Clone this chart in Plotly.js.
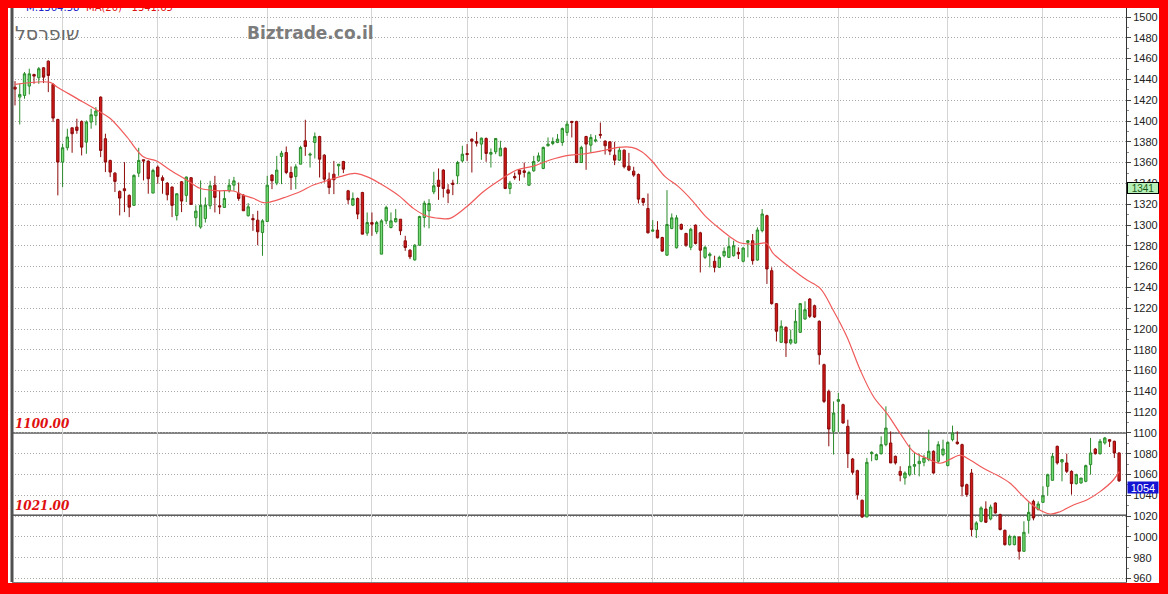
<!DOCTYPE html>
<html>
<head>
<meta charset="utf-8">
<script src="https://cdn.plot.ly/plotly-3.0.1.min.js"></script>
<style>
  html, body { margin: 0; padding: 0; background: #fff; }
  #wrap { position: relative; width: 1168px; height: 594px; overflow: hidden; }
  #chart { position: absolute; left: 0; top: 0; width: 1168px; height: 594px; }
  #frame { position: absolute; left: 0; top: 0; width: 1168px; height: 594px; box-sizing: border-box;
           border-style: solid; border-color: #ff0000; border-width: 8px 9px 11px 8px; pointer-events: none; z-index: 10; }
</style>
</head>
<body>
<div id="wrap"><div id="chart"></div><div id="frame"></div></div>
<script>
// ---- data (daily candles, oldest first) ----
const open = [1432.6,1423.0,1424.6,1433.6,1444.8,1441.6,1451.2,1457.6,1435.2,1401.5,1360.5,1374.3,1393.5,1394.2,1399.6,1379.7,1399.0,1405.1,1423.0,1383.0,
1362.1,1349.9,1332.3,1334.9,1328.5,1318.9,1349.9,1362.8,1361.5,1330.7,1355.7,1345.5,1340.3,1336.5,1309.2,1341.6,1328.5,1345.5,1307.0,1298.0,
1306.3,1318.5,1338.3,1318.5,1316.9,1332.9,1338.3,1330.6,1328.7,1308.9,1306.3,1304.7,1292.8,1303.4,1348.0,1340.3,1365.9,1369.7,1350.5,1346.7,
1358.5,1381.0,1367.2,1379.4,1385.1,1367.2,1344.1,1348.9,1356.9,1361.1,1332.9,1319.1,1325.5,1331.3,1292.2,1302.4,1293.5,1272.0,1304.0,1297.6,
1303.1,1305.6,1284.8,1275.8,1266.5,1280.6,1307.2,1313.7,1331.9,1343.1,1352.8,1333.8,1340.3,1347.3,1361.7,1368.8,1382.6,1380.3,1377.8,1383.2,
1368.1,1370.4,1366.5,1373.9,1335.1,1346.7,1352.8,1352.1,1338.3,1352.1,1361.7,1354.4,1376.2,1378.4,1379.4,1379.4,1389.0,1399.6,1399.6,1360.1,
1385.1,1376.8,1380.8,1387.1,1380.6,1380.0,1367.2,1362.4,1372.0,1356.6,1351.8,1348.6,1325.5,1315.9,1294.1,1295.1,1288.0,1271.0,1296.7,1278.1,
1300.5,1291.9,1278.6,1299.9,1292.5,1268.9,1270.5,1265.1,1259.3,1270.5,1268.9,1270.5,1273.7,1265.1,1283.3,1284.9,1266.3,1294.6,1309.0,1256.1,
1224.4,1187.2,1201.6,1186.5,1186.5,1196.8,1209.6,1228.8,1222.4,1207.4,1165.7,1140.1,1101.6,1130.4,1127.2,1106.4,1075.0,1063.8,1035.3,1019.2,
1080.1,1074.4,1080.1,1088.8,1090.4,1077.6,1063.1,1056.7,1059.9,1068.0,1070.5,1071.8,1074.4,1082.4,1072.8,1079.2,1068.6,1093.6,1091.3,1088.8,
1050.3,1061.5,1007.1,1015.1,1026.9,1017.3,1032.7,1021.5,1006.4,992.6,992.6,1000.0,986.2,1016.0,1034.3,1026.3,1033.3,1048.7,1054.5,1087.2,
1072.1,1071.2,1063.1,1051.3,1051.9,1053.5,1069.6,1084.6,1080.1,1090.4,1093.6,1092.0,1080.8];
const high = [1438.4,1435.8,1447.1,1450.3,1445.4,1451.9,1451.9,1458.3,1436.5,1402.2,1378.1,1392.6,1393.5,1402.2,1400.6,1400.6,1411.8,1413.4,1423.7,1387.8,
1362.8,1350.9,1333.3,1360.5,1329.4,1348.7,1374.3,1362.8,1362.1,1354.1,1357.3,1347.7,1341.3,1337.1,1330.1,1342.2,1346.7,1346.1,1318.9,1342.9,
1326.5,1342.5,1347.3,1332.9,1332.9,1344.1,1346.3,1340.9,1329.7,1321.0,1310.5,1313.7,1305.6,1347.3,1348.9,1366.5,1371.3,1375.5,1356.3,1358.5,
1376.2,1401.2,1369.7,1389.0,1385.8,1368.1,1350.5,1361.7,1358.5,1361.7,1333.8,1331.3,1326.5,1331.9,1312.1,1312.1,1304.0,1305.6,1318.5,1312.1,
1315.3,1305.6,1289.6,1276.8,1281.6,1308.9,1323.3,1324.9,1351.2,1354.4,1353.7,1339.3,1343.5,1361.7,1376.2,1377.8,1383.2,1389.6,1384.2,1384.2,
1373.6,1383.2,1381.0,1374.6,1342.5,1350.5,1353.7,1360.1,1352.1,1366.5,1369.7,1375.5,1384.2,1384.2,1387.4,1393.8,1400.2,1400.2,1400.2,1376.2,
1385.8,1387.4,1386.4,1398.6,1381.6,1380.6,1380.0,1375.2,1372.6,1369.4,1356.0,1349.6,1326.2,1330.3,1304.7,1303.7,1288.7,1333.5,1311.1,1309.5,
1301.5,1292.5,1297.3,1300.5,1293.5,1280.1,1273.7,1270.5,1270.5,1278.5,1288.1,1284.9,1278.5,1278.5,1285.6,1291.3,1297.8,1315.4,1309.9,1259.3,
1225.0,1208.3,1202.6,1199.4,1218.6,1225.0,1226.6,1229.8,1223.4,1208.3,1166.7,1141.7,1130.4,1138.5,1128.2,1112.8,1076.0,1064.7,1035.9,1076.0,
1082.4,1080.1,1096.8,1125.6,1101.6,1078.2,1068.0,1063.1,1088.8,1080.8,1080.1,1079.2,1103.2,1083.3,1092.0,1093.6,1092.0,1107.1,1101.6,1089.7,
1051.3,1065.4,1015.1,1029.5,1034.3,1031.1,1033.3,1022.4,1007.1,1002.2,1001.3,1000.6,1015.1,1033.3,1035.9,1034.3,1048.7,1060.9,1080.8,1087.8,
1075.0,1080.1,1064.1,1060.9,1056.7,1069.6,1095.2,1085.6,1094.2,1096.2,1094.2,1092.6,1081.4];
const low = [1415.0,1396.7,1421.4,1425.6,1435.8,1435.8,1436.5,1427.8,1399.0,1328.5,1336.5,1371.7,1369.5,1387.8,1366.9,1368.5,1392.6,1395.8,1365.3,1350.9,
1346.1,1331.7,1309.2,1312.4,1307.6,1318.9,1346.1,1342.9,1330.1,1330.7,1339.7,1330.1,1323.7,1307.6,1304.4,1312.4,1322.1,1319.8,1298.7,1296.4,
1302.4,1315.3,1312.1,1310.5,1316.9,1331.3,1332.9,1323.3,1313.7,1308.2,1294.4,1280.6,1270.4,1303.1,1334.5,1338.3,1339.3,1348.9,1333.8,1334.5,
1358.5,1366.5,1355.3,1364.0,1345.7,1340.9,1329.7,1329.7,1347.3,1349.9,1320.1,1318.5,1305.6,1291.2,1289.6,1289.6,1291.2,1272.0,1300.8,1296.7,
1302.4,1290.3,1275.2,1267.2,1265.6,1280.0,1297.6,1296.7,1329.7,1324.2,1326.5,1321.0,1328.7,1339.3,1360.1,1361.7,1350.5,1375.5,1362.7,1360.8,
1355.3,1368.1,1366.5,1334.5,1329.7,1343.5,1342.5,1345.7,1337.7,1351.2,1360.8,1353.7,1375.5,1376.8,1378.7,1376.2,1385.8,1384.2,1359.5,1360.1,
1353.1,1369.7,1379.4,1383.2,1367.8,1367.2,1357.6,1361.7,1354.4,1351.8,1346.3,1320.7,1318.5,1291.9,1293.5,1287.1,1274.2,1270.4,1296.0,1277.4,
1295.1,1279.0,1275.8,1281.3,1254.4,1267.3,1259.3,1254.5,1258.7,1268.9,1268.3,1269.6,1267.3,1264.1,1268.9,1261.9,1265.7,1292.9,1243.3,1223.4,
1188.1,1186.5,1173.1,1184.9,1185.9,1196.2,1209.0,1210.6,1210.6,1165.7,1128.8,1087.2,1079.2,1100.6,1109.0,1066.3,1059.9,1035.9,1018.3,1019.2,
1072.8,1073.7,1079.2,1087.2,1071.2,1069.6,1053.5,1050.3,1058.3,1059.9,1058.3,1068.0,1072.8,1060.9,1071.2,1077.6,1068.0,1092.0,1088.8,1039.1,
1038.5,1000.6,999.0,1014.1,1013.5,1016.0,1022.4,1006.4,991.7,991.7,992.0,978.2,986.2,1003.2,1016.0,1025.6,1032.7,1039.7,1054.2,1069.6,
1053.5,1061.5,1040.7,1050.3,1051.3,1052.6,1059.9,1079.2,1079.2,1088.8,1086.5,1076.0,1053.0];
const close = [1430.7,1425.6,1445.4,1445.4,1443.2,1450.3,1442.2,1443.8,1402.8,1360.5,1374.3,1384.6,1387.8,1391.0,1374.9,1399.0,1406.0,1409.6,1371.7,1360.5,
1350.9,1341.9,1325.9,1333.0,1317.2,1347.7,1362.1,1361.5,1344.5,1352.5,1346.7,1342.9,1329.1,1318.9,1330.1,1323.0,1346.1,1319.8,1313.4,1318.9,
1319.1,1337.7,1326.5,1317.5,1325.5,1338.3,1342.5,1325.5,1313.7,1317.5,1305.0,1293.5,1304.0,1338.3,1342.5,1352.8,1369.1,1350.5,1345.7,1356.0,
1374.6,1375.5,1368.1,1385.1,1363.3,1344.1,1336.1,1343.5,1358.5,1353.7,1324.2,1325.5,1310.5,1291.2,1302.4,1300.8,1302.4,1304.0,1316.9,1304.0,
1306.3,1294.4,1278.4,1269.4,1280.6,1308.2,1321.0,1320.7,1337.7,1337.1,1335.1,1330.6,1339.0,1360.1,1368.1,1367.8,1380.6,1378.7,1383.5,1368.8,
1369.7,1383.2,1373.9,1335.1,1340.3,1345.4,1348.9,1350.5,1350.5,1361.1,1366.5,1374.6,1377.8,1380.3,1382.6,1392.8,1397.0,1398.6,1360.1,1374.6,
1377.8,1384.2,1381.8,1386.4,1376.2,1371.0,1362.4,1372.0,1356.0,1352.8,1348.0,1324.9,1321.7,1292.5,1295.1,1287.7,1274.9,1300.5,1306.9,1306.9,
1296.0,1280.6,1295.9,1282.2,1275.8,1278.5,1272.1,1259.3,1268.9,1274.7,1279.2,1280.1,1272.1,1277.9,1284.9,1265.7,1295.2,1310.6,1257.7,1224.4,
1197.8,1202.6,1186.5,1189.7,1207.4,1224.4,1218.6,1212.2,1211.5,1175.3,1130.4,1103.8,1119.2,1132.1,1109.6,1080.1,1062.2,1040.7,1019.2,1071.8,
1081.4,1079.2,1088.8,1104.8,1071.2,1071.2,1059.3,1061.5,1068.0,1069.6,1072.8,1076.0,1082.4,1061.5,1088.8,1084.6,1091.0,1100.0,1089.7,1048.7,
1040.7,1007.1,1013.5,1027.9,1014.1,1028.8,1023.1,1007.1,992.6,1000.6,1000.6,986.2,1004.5,1023.7,1018.3,1031.7,1039.7,1059.9,1077.6,1071.2,
1074.4,1063.1,1051.3,1059.9,1056.7,1068.6,1080.8,1080.1,1092.0,1095.2,1092.0,1080.8,1054.0];

// 20-day moving average (candle index, value)
const maIdx = [0,7.35,8.76,12.96,17.17,19.96,23.47,26.96,29.78,32.57,36.08,38.87,42.38,45.87,47.97,50.07,52.17,53.58,57.09,59.89,
62.68,65.5,68.29,71.44,73.9,76.7,79.49,80.9,83.7,86.5,89.3,91.4,94.9,98.4,101.9,105.4,108.9,112.4,115.9,119.4,
123.3,126.8,129.6,131.7,133.8,136.6,139.4,142.2,145.0,147.4,150.2,152.3,155.8,157.9,159.3,162.2,164.9,166.4,169.2,171.9,
174.8,177.6,180.4,183.2,186.0,188.8,191.6,194.4,196.5,198.6,200.7,203.5,206.3,209.1,211.9,214.7,217.5,219.6,222.4,225.2,
228.0,230.8,232.0];
const maVal = [1435.3,1437.2,1433.0,1421.8,1410.6,1402.6,1384.9,1365.7,1361.5,1352.9,1343.3,1335.3,1333.0,1332.7,1328.8,1325.7,1321.5,1322.1,1327.2,1332.0,
1338.5,1342.6,1346.5,1349.7,1346.5,1340.0,1332.0,1327.3,1316.0,1308.7,1306.4,1306.4,1317.6,1332.0,1343.3,1352.9,1356.7,1362.5,1366.7,1368.3,
1371.4,1374.7,1374.7,1370.5,1361.8,1346.5,1336.9,1324.0,1308.8,1299.0,1288.8,1283.0,1281.7,1282.4,1272.8,1261.5,1251.9,1247.1,1239.1,1218.3,
1192.6,1160.6,1134.9,1118.9,1099.7,1082.0,1075.7,1070.9,1074.7,1078.8,1074.0,1066.0,1059.6,1051.6,1038.8,1027.6,1022.1,1024.3,1030.8,1035.6,
1043.6,1054.8,1062.8];

// month boundaries (candle index of vertical grid lines)
const monthStarts = [10,30,53,75,95,116,134,153,173,196,216];
// horizontal reference lines
const levels = [1100, 1021];
const levelLabels = ['1100.00', '1021.00'];
// header texts
const symbolName = 'שופרסל';
const siteName = 'Biztrade.co.il';
const headerM = 'M:1364.58';
const headerMA = 'MA(20)';
const headerMAval = '1341.65';
// right axis value boxes
const maBox = 1341;
const lastBox = 1054;

const idx = close.map((_, i) => i);

const candles = {
  type: 'candlestick',
  x: idx, open: open, high: high, low: low, close: close,
  increasing: { line: { color: '#2a8a2a', width: 1 }, fillcolor: '#74dc74' },
  decreasing: { line: { color: '#8c0a0a', width: 1 }, fillcolor: '#d01a1a' },
  whiskerwidth: 0,
  hoverinfo: 'skip',
  showlegend: false
};
const ma = {
  type: 'scatter', mode: 'lines',
  x: maIdx, y: maVal,
  line: { color: '#f05a5a', width: 1.2, shape: 'spline', smoothing: 1 },
  hoverinfo: 'skip', showlegend: false
};

const shapes = levels.map(v => ({
  type: 'line', xref: 'paper', x0: 0, x1: 1, yref: 'y', y0: v, y1: v,
  line: { color: '#000', width: 1 }, layer: 'below'
}));
shapes.push({ type: 'line', xref: 'paper', x0: 0, x1: 0, yref: 'paper', y0: 0, y1: 1,
  line: { color: '#505050', width: 3 } });

const annotations = [];
levels.forEach((v, k) => annotations.push({
  xref: 'paper', x: 0, xanchor: 'left', xshift: 1,
  yref: 'y', y: v, yanchor: 'bottom', yshift: 0,
  text: '<b><i>' + levelLabels[k] + '</i></b>', showarrow: false,
  font: { family: 'DejaVu Serif', size: 12, color: '#e01010' }
}));
annotations.push({
  xref: 'paper', x: 0, xanchor: 'left', xshift: 1,
  yref: 'paper', y: 1, yanchor: 'middle', yshift: -25,
  text: symbolName, showarrow: false,
  font: { family: 'DejaVu Sans', size: 19, color: '#6a6a6a' }
});
annotations.push({
  xref: 'paper', x: 0, xanchor: 'left', xshift: 233,
  yref: 'paper', y: 1, yanchor: 'middle', yshift: -25,
  text: '<b>' + siteName + '</b>', showarrow: false,
  font: { family: 'DejaVu Sans', size: 17, color: '#7c7c7c' }
});
annotations.push({
  xref: 'paper', x: 0, xanchor: 'left', xshift: 12,
  yref: 'paper', y: 1, yanchor: 'middle', yshift: 1,
  text: headerM, showarrow: false,
  font: { family: 'DejaVu Sans', size: 10, color: '#2020c8' }
});
annotations.push({
  xref: 'paper', x: 0, xanchor: 'left', xshift: 72,
  yref: 'paper', y: 1, yanchor: 'middle', yshift: 1,
  text: headerMA + '&nbsp;&nbsp;&nbsp;' + headerMAval, showarrow: false,
  font: { family: 'DejaVu Sans', size: 10, color: '#e01010' }
});
annotations.push({
  xref: 'paper', x: 1, xanchor: 'left', xshift: 1,
  yref: 'y', y: maBox, yanchor: 'top',
  text: String(maBox), showarrow: false, width: 30, height: 10,
  bgcolor: '#b6f0b6', bordercolor: '#000', borderwidth: 1, borderpad: 0,
  font: { family: 'Liberation Sans', size: 10, color: '#1a5a1a' }
});
annotations.push({
  xref: 'paper', x: 1, xanchor: 'left', xshift: 1,
  yref: 'y', y: lastBox, yanchor: 'top',
  text: String(lastBox), showarrow: false, width: 30, height: 11,
  bgcolor: '#1414d2', borderpad: 0,
  font: { family: 'Liberation Sans', size: 11, color: '#ffffff' }
});

const layout = {
  width: 1168, height: 594,
  margin: { l: 12, r: 42, t: 8, b: 12, pad: 0 },
  paper_bgcolor: '#ffffff', plot_bgcolor: '#ffffff',
  showlegend: false,
  dragmode: false,
  xaxis: {
    type: 'linear', range: [-0.63, 233.45],
    tickmode: 'array', tickvals: monthStarts, showticklabels: false, ticks: '',
    showgrid: true, gridcolor: '#d4d4d4', gridwidth: 1,
    zeroline: false, showline: true, linecolor: '#808080', linewidth: 2,
    rangeslider: { visible: false }, fixedrange: true
  },
  yaxis: {
    side: 'right', range: [956.7, 1508.7],
    tick0: 960, dtick: 20,
    ticks: 'outside', ticklen: 4, tickcolor: '#444', tickwidth: 1,
    minor: { dtick: 10, tick0: 960, ticks: 'outside', ticklen: 2, tickcolor: '#888', showgrid: false },
    showgrid: true, gridcolor: '#a8a8a8', griddash: '1px,2px', gridwidth: 1,
    zeroline: false, showline: true, linecolor: '#333', linewidth: 1,
    tickfont: { family: 'Liberation Sans', size: 11, color: '#222' },
    fixedrange: true
  },
  shapes: shapes,
  annotations: annotations
};

Plotly.newPlot('chart', [candles, ma], layout, { displayModeBar: false, staticPlot: true });
</script>
</body>
</html>
